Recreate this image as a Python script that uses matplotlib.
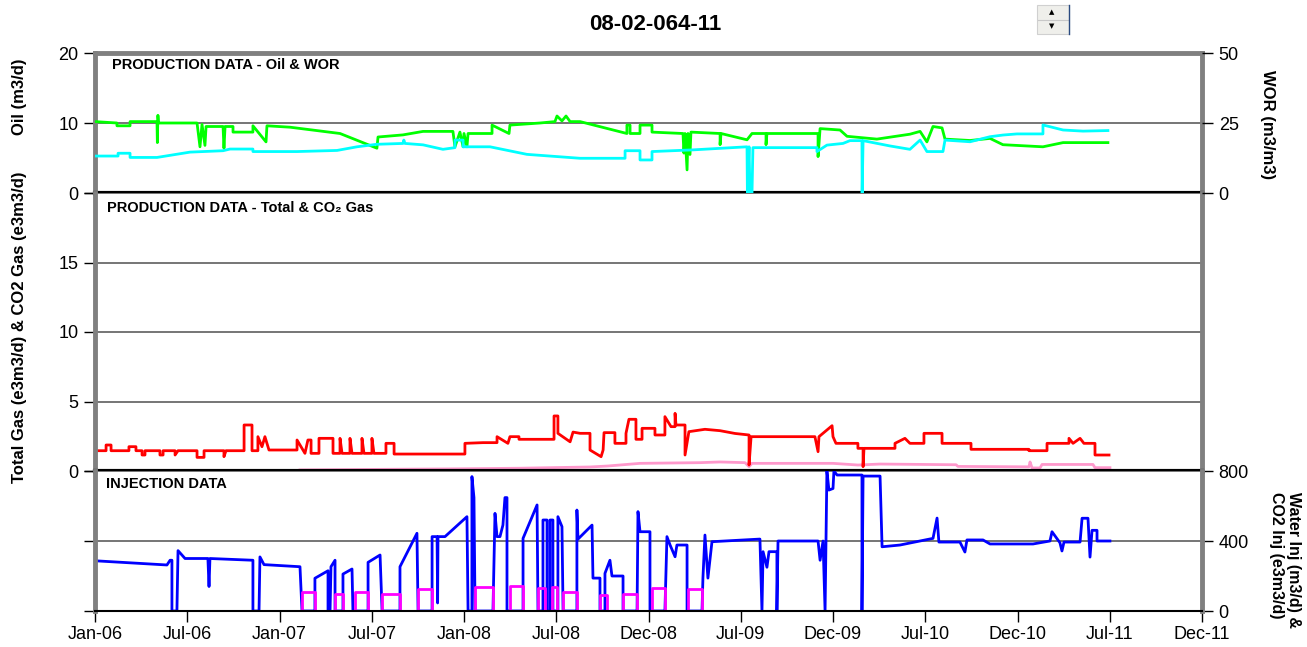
import matplotlib
matplotlib.use('Agg')
import matplotlib.pyplot as plt
from matplotlib.patches import Rectangle
from matplotlib.lines import Line2D

plt.rcParams['font.family'] = ['Liberation Sans', 'DejaVu Sans']

# x axis: decimal years, ticks every half year
tick_labels = ['Jan-06', 'Jul-06', 'Jan-07', 'Jul-07', 'Jan-08', 'Jul-08', 'Dec-08',
               'Jul-09', 'Dec-09', 'Jul-10', 'Dec-10', 'Jul-11', 'Dec-11']

# oil rate (m3/d)
oil_year = [2006.000, 2006.119, 2006.119, 2006.190, 2006.190, 2006.336, 2006.338, 2006.341, 2006.344, 2006.553,
            2006.569, 2006.580, 2006.596, 2006.602, 2006.694, 2006.699, 2006.705, 2006.748, 2006.748, 2006.856,
            2006.856, 2006.927, 2006.932, 2007.057, 2007.328, 2007.528, 2007.534, 2007.669, 2007.778, 2007.940,
            2007.951, 2007.978, 2007.995, 2008.000, 2008.016, 2008.022, 2008.152, 2008.152, 2008.244, 2008.249,
            2008.412, 2008.493, 2008.504, 2008.531, 2008.553, 2008.575, 2008.629, 2008.883, 2008.883, 2008.900,
            2008.900, 2008.954, 2008.954, 2009.019, 2009.019, 2009.187, 2009.192, 2009.198, 2009.209, 2009.214,
            2009.225, 2009.230, 2009.388, 2009.388, 2009.393, 2009.534, 2009.561, 2009.637, 2009.637, 2009.642,
            2009.919, 2009.919, 2009.930, 2010.038, 2010.076, 2010.238, 2010.417, 2010.472, 2010.509, 2010.542,
            2010.591, 2010.607, 2010.743, 2010.851, 2010.921, 2011.138, 2011.247, 2011.490]
oil = [10.2, 10.0, 9.6, 9.6, 10.2, 10.2, 7.2, 11.1, 10.0, 10.0,
       6.6, 9.8, 6.8, 9.5, 9.5, 6.4, 9.5, 9.5, 8.7, 8.7,
       9.6, 7.3, 9.6, 9.4, 8.5, 6.4, 8.0, 8.3, 8.8, 8.8,
       6.6, 8.7, 6.6, 8.5, 6.6, 8.5, 8.5, 9.7, 8.5, 9.7,
       10.0, 10.2, 11.0, 10.3, 11.0, 10.2, 10.2, 8.5, 9.7, 9.7,
       8.5, 8.5, 9.7, 9.7, 8.7, 8.5, 5.7, 8.5, 3.3, 8.5,
       5.5, 8.7, 8.5, 6.9, 8.5, 7.6, 8.5, 8.5, 6.9, 8.5,
       8.5, 5.2, 9.2, 9.0, 8.1, 7.7, 8.4, 8.8, 7.3, 9.5,
       9.3, 7.7, 7.5, 7.8, 6.9, 6.6, 7.2, 7.2]

# water oil ratio (m3/m3)
wor_year = [2006.000, 2006.125, 2006.125, 2006.190, 2006.190, 2006.336, 2006.515, 2006.694, 2006.732, 2006.856,
            2006.856, 2007.095, 2007.312, 2007.420, 2007.528, 2007.669, 2007.674, 2007.680, 2007.778, 2007.886,
            2007.951, 2007.951, 2007.995, 2007.995, 2008.141, 2008.341, 2008.629, 2008.873, 2008.873, 2008.954,
            2008.954, 2009.019, 2009.019, 2009.241, 2009.534, 2009.536, 2009.545, 2009.550, 2009.561, 2009.566,
            2009.913, 2009.913, 2009.967, 2010.054, 2010.092, 2010.157, 2010.158, 2010.163, 2010.309, 2010.417,
            2010.472, 2010.509, 2010.596, 2010.607, 2010.743, 2010.851, 2010.921, 2010.997, 2011.138, 2011.138,
            2011.247, 2011.355, 2011.490]
wor = [13.2, 13.2, 14.2, 14.2, 12.7, 12.7, 14.6, 15.1, 15.7, 15.7,
       14.8, 14.8, 15.2, 16.5, 17.4, 17.7, 18.9, 17.7, 17.2, 15.6,
       16.2, 18.9, 18.9, 16.5, 16.5, 13.8, 12.4, 12.4, 15.1, 15.1,
       11.8, 11.8, 14.8, 15.4, 16.5, 0.0, 16.5, 0.0, 0.0, 16.2,
       16.2, 14.8, 17.1, 17.7, 18.7, 18.7, 0.0, 18.7, 16.8, 15.6,
       18.9, 14.8, 14.8, 18.9, 18.3, 20.1, 20.7, 21.1, 21.1, 24.3,
       22.5, 22.1, 22.3]

# total gas (e3m3/d)
gas_year = [2006.000, 2006.060, 2006.060, 2006.087, 2006.087, 2006.184, 2006.184, 2006.222, 2006.222, 2006.255,
            2006.255, 2006.271, 2006.271, 2006.352, 2006.352, 2006.369, 2006.369, 2006.434, 2006.434, 2006.450,
            2006.553, 2006.553, 2006.591, 2006.591, 2006.699, 2006.699, 2006.710, 2006.808, 2006.808, 2006.851,
            2006.851, 2006.883, 2006.883, 2006.905, 2006.921, 2006.943, 2007.095, 2007.095, 2007.138, 2007.154,
            2007.171, 2007.171, 2007.214, 2007.214, 2007.290, 2007.290, 2007.328, 2007.328, 2007.339, 2007.382,
            2007.382, 2007.393, 2007.447, 2007.447, 2007.458, 2007.501, 2007.501, 2007.512, 2007.577, 2007.577,
            2007.621, 2007.621, 2008.005, 2008.005, 2008.103, 2008.179, 2008.179, 2008.238, 2008.249, 2008.298,
            2008.298, 2008.488, 2008.488, 2008.509, 2008.509, 2008.575, 2008.591, 2008.629, 2008.683, 2008.683,
            2008.743, 2008.754, 2008.759, 2008.818, 2008.818, 2008.878, 2008.878, 2008.894, 2008.932, 2008.932,
            2008.965, 2008.965, 2009.035, 2009.035, 2009.089, 2009.089, 2009.122, 2009.144, 2009.144, 2009.149,
            2009.198, 2009.198, 2009.219, 2009.306, 2009.388, 2009.469, 2009.545, 2009.545, 2009.556, 2009.902,
            2009.919, 2009.924, 2009.995, 2010.000, 2010.016, 2010.135, 2010.135, 2010.163, 2010.163, 2010.168,
            2010.336, 2010.336, 2010.390, 2010.417, 2010.493, 2010.493, 2010.591, 2010.591, 2010.748, 2010.748,
            2011.062, 2011.062, 2011.160, 2011.160, 2011.279, 2011.279, 2011.301, 2011.339, 2011.360, 2011.420,
            2011.420, 2011.496]
gas = [1.46, 1.46, 1.87, 1.87, 1.46, 1.46, 1.75, 1.75, 1.46, 1.46,
       1.15, 1.15, 1.46, 1.46, 1.15, 1.15, 1.46, 1.46, 1.15, 1.46,
       1.46, 0.98, 0.98, 1.46, 1.46, 1.03, 1.46, 1.46, 3.31, 3.31,
       1.46, 1.46, 2.47, 1.75, 2.47, 1.51, 1.51, 2.23, 1.27, 2.23,
       2.23, 1.27, 1.27, 2.35, 2.35, 1.27, 1.27, 2.35, 1.27, 1.27,
       2.35, 1.27, 1.27, 2.35, 1.27, 1.27, 2.35, 1.27, 1.27, 1.99,
       1.99, 1.22, 1.22, 1.99, 2.04, 2.04, 2.47, 1.99, 2.47, 2.47,
       2.28, 2.28, 3.96, 3.96, 2.71, 2.10, 2.80, 2.71, 2.71, 1.51,
       1.03, 1.51, 2.76, 2.76, 1.99, 1.99, 2.71, 3.72, 3.72, 2.28,
       2.28, 3.07, 3.07, 2.59, 2.59, 3.91, 3.19, 3.19, 4.15, 3.31,
       3.31, 1.15, 2.83, 3.00, 2.90, 2.70, 2.59, 0.43, 2.47, 2.47,
       1.39, 2.47, 3.26, 2.47, 1.99, 1.99, 1.63, 1.63, 0.31, 1.63,
       1.63, 1.99, 2.35, 1.99, 1.99, 2.71, 2.71, 1.99, 1.99, 1.56,
       1.56, 1.46, 1.46, 1.99, 1.99, 2.35, 1.99, 2.35, 1.99, 1.99,
       1.15, 1.15]

# produced CO2 gas (e3m3/d)
co2gas_year = [2007.111, 2007.908, 2008.304, 2008.683, 2008.780, 2008.954, 2009.279, 2009.388, 2009.523, 2009.545,
               2009.561, 2010.000, 2010.135, 2010.255, 2010.667, 2010.677, 2011.062, 2011.068, 2011.079, 2011.122,
               2011.133, 2011.409, 2011.420, 2011.501]
co2gas = [0.08, 0.15, 0.20, 0.29, 0.36, 0.55, 0.60, 0.65, 0.60, 0.31,
          0.55, 0.55, 0.43, 0.50, 0.45, 0.33, 0.30, 0.65, 0.22, 0.22,
          0.47, 0.47, 0.24, 0.24]

# water injection (m3/d)
winj_year = [2006.000, 2006.390, 2006.407, 2006.417, 2006.417, 2006.444, 2006.450, 2006.488, 2006.612, 2006.618,
             2006.623, 2006.856, 2006.856, 2006.889, 2006.894, 2006.916, 2007.111, 2007.122, 2007.192, 2007.192,
             2007.263, 2007.263, 2007.274, 2007.279, 2007.301, 2007.301, 2007.344, 2007.344, 2007.393, 2007.398,
             2007.480, 2007.480, 2007.545, 2007.556, 2007.653, 2007.653, 2007.745, 2007.751, 2007.827, 2007.827,
             2007.854, 2007.857, 2007.859, 2007.897, 2008.016, 2008.022, 2008.043, 2008.043, 2008.054, 2008.060,
             2008.157, 2008.168, 2008.179, 2008.195, 2008.211, 2008.222, 2008.233, 2008.233, 2008.320, 2008.320,
             2008.396, 2008.401, 2008.428, 2008.428, 2008.450, 2008.450, 2008.466, 2008.466, 2008.482, 2008.482,
             2008.509, 2008.509, 2008.531, 2008.537, 2008.612, 2008.612, 2008.618, 2008.694, 2008.699, 2008.737,
             2008.737, 2008.764, 2008.764, 2008.791, 2008.802, 2008.862, 2008.862, 2008.938, 2008.943, 2008.954,
             2009.008, 2009.008, 2009.089, 2009.100, 2009.117, 2009.144, 2009.154, 2009.209, 2009.209, 2009.290,
             2009.295, 2009.306, 2009.322, 2009.344, 2009.604, 2009.615, 2009.621, 2009.642, 2009.653, 2009.696,
             2009.696, 2009.702, 2009.919, 2009.930, 2009.946, 2009.957, 2009.967, 2009.978, 2010.000, 2010.005,
             2010.022, 2010.157, 2010.157, 2010.163, 2010.255, 2010.266, 2010.363, 2010.542, 2010.564, 2010.574,
             2010.688, 2010.715, 2010.726, 2010.813, 2010.851, 2011.084, 2011.176, 2011.187, 2011.230, 2011.241,
             2011.252, 2011.339, 2011.350, 2011.382, 2011.393, 2011.404, 2011.431, 2011.431, 2011.501]
winj = [287, 263, 290, 290, 0, 0, 345, 300, 300, 140,
        300, 290, 0, 0, 309, 265, 253, 0, 0, 187,
        230, 0, 0, 253, 290, 0, 0, 211, 240, 0,
        0, 278, 320, 0, 0, 253, 444, 0, 0, 425,
        425, 46, 425, 425, 539, 0, 0, 768, 648, 0,
        0, 558, 425, 425, 491, 648, 648, 0, 0, 415,
        606, 0, 0, 520, 520, 0, 0, 520, 520, 0,
        0, 539, 482, 0, 0, 577, 411, 491, 188, 188,
        0, 0, 215, 290, 200, 200, 0, 0, 568, 453,
        453, 0, 0, 425, 377, 310, 377, 377, 0, 0,
        188, 434, 188, 396, 411, 0, 339, 250, 339, 339,
        0, 400, 400, 290, 400, 0, 800, 691, 700, 800,
        777, 777, 0, 771, 771, 367, 377, 415, 531, 394,
        394, 337, 406, 406, 383, 383, 400, 453, 390, 343,
        394, 394, 530, 530, 308, 461, 461, 400, 400]

# CO2 injection slugs (e3m3/d): start, end, rate
co2inj_start = [2007.122, 2007.301, 2007.409, 2007.556, 2007.751, 2008.060, 2008.249, 2008.401, 2008.477, 2008.537,
                2008.737, 2008.862, 2009.019, 2009.214]
co2inj_end = [2007.192, 2007.344, 2007.480, 2007.653, 2007.827, 2008.157, 2008.320, 2008.439, 2008.504, 2008.612,
              2008.775, 2008.938, 2009.089, 2009.290]
co2inj_rate = [110, 95, 110, 100, 126, 137, 143, 130, 137, 110,
               91, 100, 130, 125]
co2inj_first, co2inj_last = 2006.0, 2011.501

co2inj_x, co2inj_y = [co2inj_first], [0]
for s, e, r in zip(co2inj_start, co2inj_end, co2inj_rate):
    co2inj_x += [s, s, e, e]
    co2inj_y += [0, r, r, 0]
co2inj_x.append(co2inj_last)
co2inj_y.append(0)

W_PX, H_PX = 1307, 647
fig = plt.figure(figsize=(W_PX / 100, H_PX / 100), dpi=100)

def fx(p):
    return p / W_PX

def fy(p):
    return 1 - p / H_PX

left, width = fx(95), (1202 - 95) / W_PX
ax1 = fig.add_axes([left, fy(193), width, 140 / H_PX])
ax2 = fig.add_axes([left, fy(471), width, 278 / H_PX], sharex=ax1)
ax3 = fig.add_axes([left, fy(611), width, 140 / H_PX], sharex=ax1)

grey = '#808080'
lw = 2.0

# top panel
ax1r = ax1.twinx()
ax1.plot(oil_year, oil, color='#00ff00', lw=lw, zorder=3)
ax1r.plot(wor_year, wor, color='#00ffff', lw=lw)
ax1.set_ylim(0, 20)
ax1r.set_ylim(0, 50)
ax1.set_yticks([0, 10, 20])
ax1r.set_yticks([0, 25, 50])

# middle panel
ax2.plot(co2gas_year, co2gas, color='#ff99cc', lw=lw)
ax2.plot(gas_year, gas, color='#ff0000', lw=lw)
ax2.set_ylim(0, 20)
ax2.set_yticks([0, 5, 10, 15, 20])
ax2.set_yticklabels(['0', '5', '10', '15', ''])

# bottom panel
ax3.plot(winj_year, winj, color='#0000ff', lw=lw)
ax3.plot(co2inj_x, co2inj_y, color='#ff00ff', lw=lw)
ax3.set_ylim(0, 800)
ax3.set_yticks([0, 400, 800])

ax1.set_xlim(2006, 2012)
ax3.set_xticks([2006 + 0.5 * k for k in range(13)])
ax3.set_xticklabels(tick_labels)

for ax in (ax1, ax2, ax3):
    ax.yaxis.grid(True, color='#505050', lw=1.1)
    ax.set_axisbelow(True)
    ax.tick_params(axis='both', direction='out', length=8, width=1, colors='black',
                   labelsize=13, pad=4)
    for s in ('left', 'right'):
        ax.spines[s].set_color(grey)
        ax.spines[s].set_linewidth(3.5)
    ax.spines['top'].set_visible(False)
    ax.spines['bottom'].set_color('black')
    ax.spines['bottom'].set_linewidth(3)

for s in ax1r.spines.values():
    s.set_visible(False)
ax1.spines['top'].set_visible(True)
ax1.spines['top'].set_color(grey)
ax1.spines['top'].set_linewidth(3.5)
ax3.spines['bottom'].set_linewidth(1.5)

ax1.tick_params(axis='x', bottom=False, labelbottom=False)
ax2.tick_params(axis='x', bottom=False, labelbottom=False)
ax1.tick_params(axis='y', left=True, right=False)
ax1r.tick_params(axis='y', direction='out', length=8, width=1, labelsize=13, pad=4)
ax2.tick_params(axis='y', left=True, right=False)
ax3.tick_params(axis='y', left=True, right=True, labelleft=False, labelright=True)
ax3.tick_params(axis='x', pad=3)

# titles and labels
fig.text(fx(655), fy(25), '08-02-064-11', ha='center', va='center', fontsize=16, weight='bold')
fig.text(fx(112), fy(65), 'PRODUCTION DATA - Oil & WOR', ha='left', va='center',
         fontsize=10.5, weight='bold')
fig.text(fx(107), fy(208), 'PRODUCTION DATA - Total & CO\u2082 Gas', ha='left', va='center',
         fontsize=10.5, weight='bold')
fig.text(fx(106), fy(484), 'INJECTION DATA', ha='left', va='center', fontsize=10.5, weight='bold')

fig.text(fx(20), fy(97), 'Oil (m3/d)', rotation=90, ha='center', va='center',
         fontsize=12, weight='bold')
fig.text(fx(20), fy(327), 'Total Gas (e3m3/d) & CO2 Gas (e3m3/d)', rotation=90,
         ha='center', va='center', fontsize=12, weight='bold')
fig.text(fx(1267), fy(125), 'WOR (m3/m3)', rotation=-90, ha='center', va='center',
         fontsize=12, weight='bold')
fig.text(fx(1285), fy(560), 'Water Inj (m3/d) &\nCO2 Inj (e3m3/d)', rotation=-90,
         ha='center', va='center', multialignment='left', fontsize=11.5, weight='bold',
         linespacing=1.15)

# spinner control in the screenshot
fig.patches.append(Rectangle((fx(1037), fy(34)), 32 / W_PX, 29 / H_PX, transform=fig.transFigure,
                             facecolor='#efefeb', edgecolor='#d0d0d0', lw=0.8))
fig.lines.append(Line2D([fx(1038), fx(1068)], [fy(19.5), fy(19.5)], transform=fig.transFigure,
                        color='#c8c8c8', lw=0.8))
fig.lines.append(Line2D([fx(1069), fx(1069)], [fy(5), fy(34)], transform=fig.transFigure,
                        color='#2a4a80', lw=1))
fig.text(fx(1052), fy(12.5), '\u25b2', ha='center', va='center', fontsize=5,
         family=['DejaVu Sans'])
fig.text(fx(1052), fy(26.5), '\u25bc', ha='center', va='center', fontsize=5,
         family=['DejaVu Sans'])

fig.savefig('out.png', dpi=100)
